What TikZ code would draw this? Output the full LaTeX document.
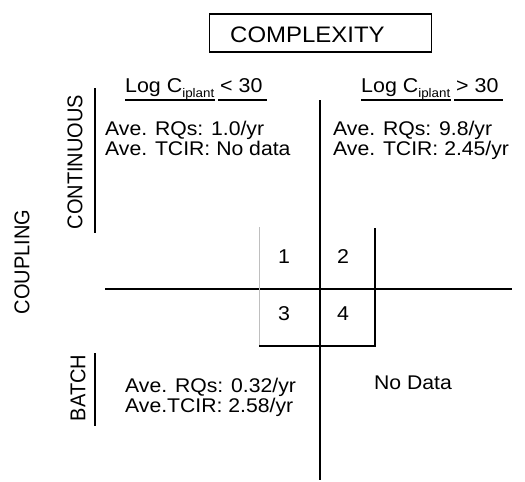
\documentclass[tikz,border=0pt]{standalone}
\usepackage{fontspec}
\setmainfont{Liberation Sans}
\usepackage{graphicx}
\newcommand\hs[1]{\scalebox{1.07}[1]{#1}}
\newcommand\vsc[1]{\scalebox{1}[1.07]{#1}}
\newcommand\subip{\raisebox{-0.26em}{\fontsize{12.5}{12.5}\selectfont iplant}}
\begin{document}
\begin{tikzpicture}[x=1pt,y=-1pt,
  txt/.style={inner sep=0pt, anchor=base west, font=\fontsize{19.8}{22}\selectfont},
  num/.style={inner sep=0pt, anchor=base, font=\fontsize{20}{22}\selectfont},
  side/.style={inner sep=0pt, rotate=90, font=\fontsize{20}{22}\selectfont},
  heavy/.style={line width=2pt},
  thin/.style={line width=1pt, black!25}]
\useasboundingbox (0,0) rectangle (525,482);
% title box
\node[draw, line width=1.5pt, minimum width=222pt, minimum height=38pt, inner sep=0pt] (cbox) at (320.5,33) {};
\node[inner sep=0pt, anchor=base west, font=\fontsize{22.4}{24}\selectfont] (ctext) at (230,42) {\hs{COMPLEXITY}};
% column headers
\node[inner sep=0pt, anchor=base west, font=\fontsize{20}{22}\selectfont] (hl) at (125,92) {\hs{Log C\subip{} < 30}};
\node[inner sep=0pt, anchor=base west, font=\fontsize{20}{22}\selectfont] (hr) at (361,92) {\hs{Log C\subip{} > 30}};
\draw[line width=1.6pt] (125,100) -- (215,100) (218,100) -- (267,100);
\draw[line width=1.6pt] (361,100) -- (451,100) (454,100) -- (503,100);
% side labels
\node[side] (cont) at (75,162) {\vsc{CONTINUOUS}};
\node[side] (coup) at (22,262) {\vsc{COUPLING}};
\node[side] (batch) at (78,388) {\vsc{BATCH}};
\draw[heavy] (94.5,88) -- (94.5,233);
\draw[heavy] (94.5,353) -- (94.5,426);
% quadrant texts
\node[txt] (tl1) at (105,135) {\hs{Ave. RQs: 1.0/yr}};
\node[txt] (tl2) at (105,155) {\hs{Ave. TCIR: No data}};
\node[txt] (tr1) at (333,135) {\hs{Ave. RQs: 9.8/yr}};
\node[txt] (tr2) at (333,155) {\hs{Ave. TCIR: 2.45/yr}};
\node[txt] (bl1) at (125,392) {\hs{Ave. RQs: 0.32/yr}};
\node[txt] (bl2) at (125,412) {\hs{Ave.TCIR: 2.58/yr}};
\node[txt, anchor=base] (nd) at (413,389) {\hs{No Data}};
% axes
\draw[heavy] (319.5,100) -- (319.5,480);
\draw[heavy] (105,288.5) -- (512,288.5);
% small grid
\draw[thin] (259.5,227) -- (259.5,346);
\draw[heavy] (375,228) -- (375,346) -- (259,346);
\node[num] (n1) at (284,263) {\hs{1}};
\node[num] (n2) at (343,263) {\hs{2}};
\node[num] (n3) at (284,320) {\hs{3}};
\node[num] (n4) at (343,320) {\hs{4}};
\end{tikzpicture}
\end{document}
